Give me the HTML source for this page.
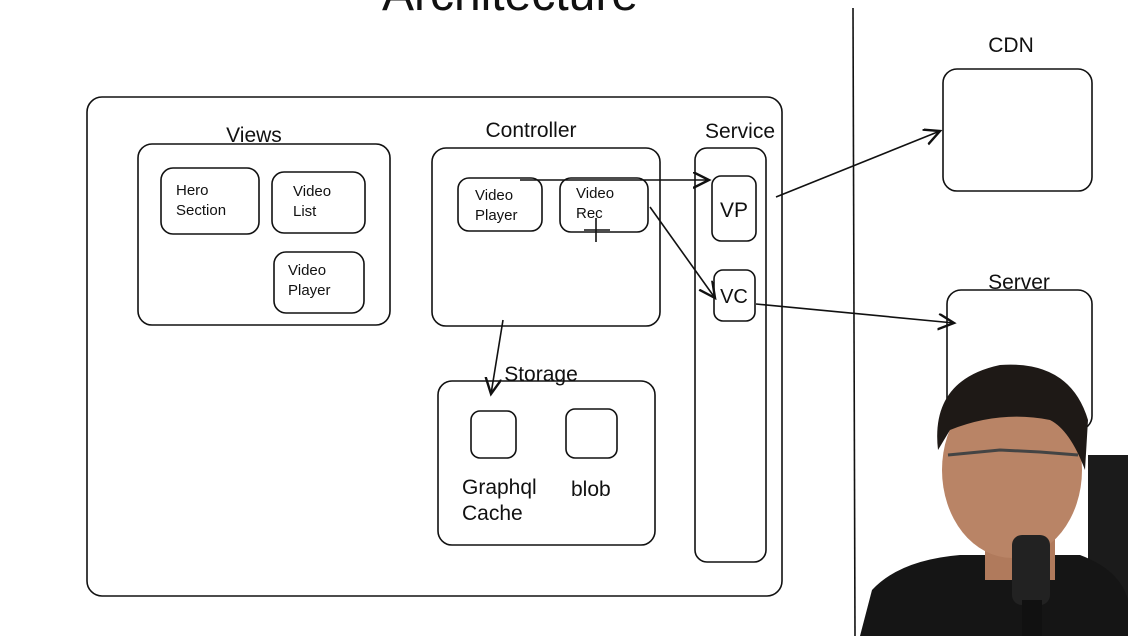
<!DOCTYPE html>
<html><head><style>
html,body{margin:0;padding:0;background:#fff;width:1128px;height:636px;overflow:hidden;font-family:"Liberation Sans",sans-serif;}
</style></head><body>
<svg width="1128" height="636" viewBox="0 0 1128 636" xmlns="http://www.w3.org/2000/svg">
<defs><marker id="a" markerWidth="12" markerHeight="12" refX="10" refY="5" orient="auto"><path d="M0,0 L10,5 L0,10" fill="none" stroke="#111" stroke-width="1.5"/></marker></defs>
<g fill="none" stroke="#111" stroke-width="1.6">
<rect x="87" y="97" width="695" height="499" rx="15"/>
<rect x="138" y="144" width="252" height="181" rx="14"/>
<rect x="161" y="168" width="98" height="66" rx="12"/>
<rect x="272" y="172" width="93" height="61" rx="12"/>
<rect x="274" y="252" width="90" height="61" rx="12"/>
<rect x="432" y="148" width="228" height="178" rx="14"/>
<rect x="458" y="178" width="84" height="53" rx="11"/>
<rect x="560" y="178" width="88" height="54" rx="11"/>
<rect x="695" y="148" width="71" height="414" rx="12"/>
<rect x="712" y="176" width="44" height="65" rx="9"/>
<rect x="714" y="270" width="41" height="51" rx="9"/>
<rect x="438" y="381" width="217" height="164" rx="14"/>
<rect x="471" y="411" width="45" height="47" rx="9"/>
<rect x="566" y="409" width="51" height="49" rx="9"/>
<rect x="943" y="69" width="149" height="122" rx="14"/>
<rect x="947" y="290" width="145" height="140" rx="14"/>
<line x1="853" y1="8" x2="855" y2="636"/>
<line x1="776" y1="197" x2="940" y2="131" marker-end="url(#a)"/>
<line x1="756" y1="304" x2="954" y2="323" marker-end="url(#a)"/>
<line x1="520" y1="180" x2="709" y2="180" marker-end="url(#a)"/>
<line x1="650" y1="207" x2="715" y2="298" marker-end="url(#a)"/>
<line x1="503" y1="320" x2="491" y2="394" marker-end="url(#a)"/>
<line x1="596" y1="218" x2="596" y2="242"/><line x1="584" y1="230" x2="610" y2="230"/>
</g>
<g fill="#111" font-family="Liberation Sans, sans-serif">
<text x="510" y="10" font-size="48" text-anchor="middle">Architecture</text>
<text x="254" y="142" font-size="21" text-anchor="middle">Views</text>
<text x="531" y="137" font-size="21" text-anchor="middle">Controller</text>
<text x="740" y="138" font-size="21" text-anchor="middle">Service</text>
<text x="541" y="381" font-size="21" text-anchor="middle">Storage</text>
<text x="1011" y="52" font-size="21" text-anchor="middle">CDN</text>
<text x="1019" y="289" font-size="21" text-anchor="middle">Server</text>
<g font-size="15"><text x="176" y="195">Hero</text><text x="176" y="215">Section</text>
<text x="293" y="196">Video</text><text x="293" y="216">List</text>
<text x="288" y="275">Video</text><text x="288" y="295">Player</text>
<text x="475" y="200">Video</text><text x="475" y="220">Player</text>
<text x="576" y="198">Video</text><text x="576" y="218">Rec</text></g>
<text x="734" y="217" font-size="21" text-anchor="middle">VP</text>
<text x="734" y="303" font-size="20" text-anchor="middle">VC</text>
<text x="462" y="494" font-size="21">Graphql</text>
<text x="462" y="520" font-size="21">Cache</text>
<text x="571" y="496" font-size="21">blob</text>
</g>
<!-- person -->
<rect x="1088" y="455" width="40" height="181" fill="#1b1b1b"/>
<path d="M860,636 L872,590 Q900,560 960,555 L1080,555 Q1120,570 1128,600 L1128,636 Z" fill="#151515"/>
<rect x="985" y="520" width="70" height="60" fill="#b07a5c"/>
<ellipse cx="1012" cy="470" rx="70" ry="88" fill="#b98466"/>
<path d="M938,450 Q930,380 1000,365 Q1070,360 1088,420 L1085,470 Q1070,430 1050,420 Q1000,410 950,430 Z" fill="#1e1916"/>
<path d="M948,455 L1000,450 L1040,452 L1078,455" stroke="#444" stroke-width="3" fill="none"/>
<rect x="1012" y="535" width="38" height="70" rx="10" fill="#222"/>
<rect x="1022" y="600" width="20" height="36" fill="#111"/>
</svg>
</body></html>
